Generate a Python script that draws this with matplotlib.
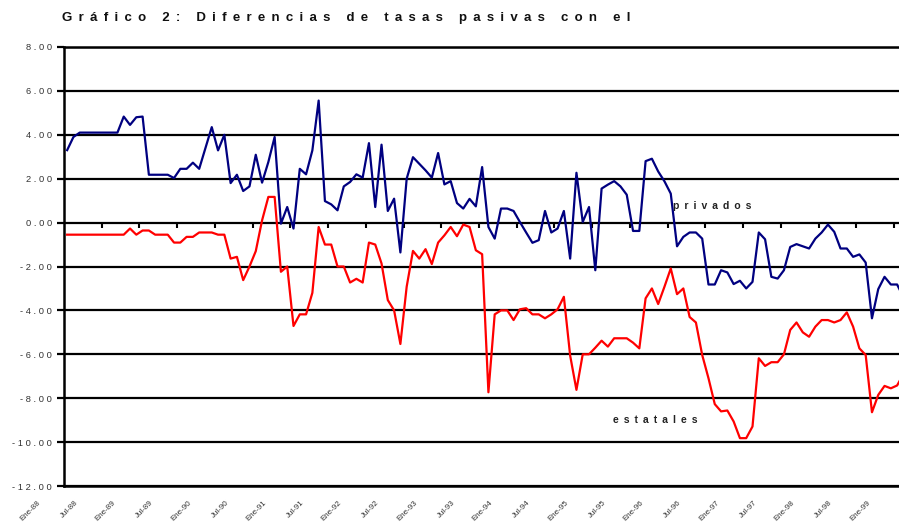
# -*- coding: utf-8 -*-
"""
Grafico 2: diferencias de tasas pasivas (privados / estatales)
"""

import numpy as np
import matplotlib
matplotlib.use("Agg")
import matplotlib.pyplot as plt
from matplotlib.transforms import ScaledTranslation


# ---- data (monthly, Ene-88 .. Feb-99) ----
privados = [3.3, 3.9, 4.1, 4.1, 4.1, 4.1, 4.1, 4.1, 4.1, 4.83,
            4.45, 4.8, 4.83, 2.18, 2.18, 2.18, 2.18, 2.03, 2.45, 2.45,
            2.73, 2.45, 3.4, 4.35, 3.29, 4.0, 1.8, 2.18, 1.44, 1.65,
            3.09, 1.82, 2.76, 3.9, -0.05, 0.71, -0.27, 2.45, 2.2, 3.29,
            5.56, 0.98, 0.83, 0.56, 1.65, 1.85, 2.2, 2.05, 3.62, 0.71,
            3.55, 0.53, 1.09, -1.36, 2.0, 2.98, 2.68, 2.38, 2.05, 3.17,
            1.74, 1.89, 0.89, 0.64, 1.08, 0.74, 2.53, -0.2, -0.73, 0.64,
            0.64, 0.53, 0.03, -0.45, -0.92, -0.8, 0.53, -0.45, -0.27, 0.53,
            -1.64, 2.27, 0.03, 0.71, -2.17, 1.55, 1.73, 1.89, 1.65, 1.27,
            -0.38, -0.38, 2.8, 2.91, 2.33, 1.88, 1.32, -1.08, -0.65, -0.45,
            -0.45, -0.73, -2.82, -2.82, -2.17, -2.27, -2.8, -2.65, -3.0, -2.7,
            -0.45, -0.76, -2.47, -2.55, -2.17, -1.11, -0.98, -1.08, -1.18, -0.73,
            -0.45, -0.09, -0.42, -1.18, -1.18, -1.56, -1.45, -1.82, -4.36, -3.03,
            -2.47, -2.82, -2.82, -3.4]

estatales = [-0.55, -0.55, -0.55, -0.55, -0.55, -0.55, -0.55, -0.55, -0.55, -0.55,
             -0.27, -0.55, -0.36, -0.36, -0.55, -0.55, -0.55, -0.91, -0.91, -0.65,
             -0.65, -0.45, -0.45, -0.45, -0.55, -0.55, -1.64, -1.56, -2.62, -2.0,
             -1.3, 0.1, 1.17, 1.17, -2.24, -2.0, -4.71, -4.18, -4.18, -3.2,
             -0.2, -1.0, -1.0, -2.0, -2.0, -2.73, -2.56, -2.73, -0.91, -1.0,
             -1.86, -3.53, -4.0, -5.53, -2.92, -1.29, -1.64, -1.21, -1.89, -0.91,
             -0.58, -0.2, -0.62, -0.09, -0.2, -1.26, -1.44, -7.73, -4.18, -4.0,
             -4.0, -4.44, -3.95, -3.9, -4.18, -4.18, -4.36, -4.18, -3.95, -3.38,
             -6.06, -7.62, -6.0, -6.0, -5.7, -5.38, -5.65, -5.27, -5.27, -5.27,
             -5.47, -5.73, -3.45, -3.0, -3.71, -2.92, -2.09, -3.26, -3.0, -4.3,
             -4.55, -6.03, -7.09, -8.27, -8.6, -8.56, -9.06, -9.82, -9.82, -9.29,
             -6.18, -6.53, -6.36, -6.36, -6.0, -4.89, -4.55, -5.0, -5.2, -4.74,
             -4.44, -4.44, -4.55, -4.44, -4.09, -4.74, -5.73, -6.03, -8.64, -7.85,
             -7.44, -7.55, -7.42, -6.9]

x_labels = ["Ene-88", "Jul-88", "Ene-89", "Jul-89", "Ene-90", "Jul-90",
            "Ene-91", "Jul-91", "Ene-92", "Jul-92", "Ene-93", "Jul-93",
            "Ene-94", "Jul-94", "Ene-95", "Jul-95", "Ene-96", "Jul-96",
            "Ene-97", "Jul-97", "Ene-98", "Jul-98", "Ene-99"]

y_ticks = [-12, -10, -8, -6, -4, -2, 0, 2, 4, 6, 8]

title = "Gráfico 2: Diferencias de tasas pasivas con el"


# ----------
def spaced(the_str, the_gap=" "):
    # letter spaced text, as in the original sheet
    return the_gap.join(list(the_str))


# ----------
def main():
    plt.rcParams["font.family"] = ["Liberation Sans", "DejaVu Sans"]

    the_dpi = 100
    fig = plt.figure(figsize=(8.99, 5.23), dpi=the_dpi)
    ax = fig.add_axes([64 / 899, 37 / 523, 835 / 899, 439 / 523])

    months = np.arange(len(privados))

    ax.plot(months, privados, color="#000080", linewidth=1.6, zorder=3)
    ax.plot(months, estatales, color="#ff0000", linewidth=1.6, zorder=3)

    ax.set_xlim(-0.5, 132.3)
    ax.set_ylim(-12, 8)

    # horizontal grid
    ax.set_yticks(y_ticks)
    ax.set_yticklabels([spaced("%.2f" % v) for v in y_ticks],
                       fontsize=6.7, color="#333333")
    ax.yaxis.grid(True, color="black", linewidth=1.6)
    ax.set_axisbelow(True)
    ax.tick_params(axis="y", length=5, width=1.6, pad=3.5)

    # category ticks sit on the zero line
    ax.set_xticks([])
    tick_pos = np.arange(5.5, len(privados) - 1, 6)
    ax.vlines(tick_pos, -0.24, 0, color="black", linewidth=1.5, zorder=2)

    # rotated month labels under the bottom line
    lab_trans = ax.get_xaxis_transform() + \
        ScaledTranslation(-28 / the_dpi, -16 / the_dpi, fig.dpi_scale_trans)
    for the_index, the_label in enumerate(x_labels):
        ax.text(the_index * 6, 0, the_label, transform=lab_trans,
                rotation=45, rotation_mode="anchor", ha="right",
                va="center", fontsize=5.8, color="#333333")

    for the_side in ["left", "bottom", "top"]:
        ax.spines[the_side].set_linewidth(1.8)
        ax.spines[the_side].set_color("black")
    ax.spines["right"].set_visible(False)

    # series names
    wide_gap = " \u2009"
    ax.text(96.3, 0.75, spaced("privados", wide_gap), fontsize=7.5,
            fontweight="bold", color="#222222", va="center")
    ax.text(86.8, -8.98, spaced("estatales", wide_gap), fontsize=7.5,
            fontweight="bold", color="#222222", va="center")

    # main title
    fig.text(62 / 899, 1 - 18 / 523, spaced(title, wide_gap), fontsize=9.5,
             fontweight="bold", va="center", color="#111111")

    fig.savefig("out.png", dpi=the_dpi)
    plt.close()


# ----------
if __name__ == "__main__":
    main()
